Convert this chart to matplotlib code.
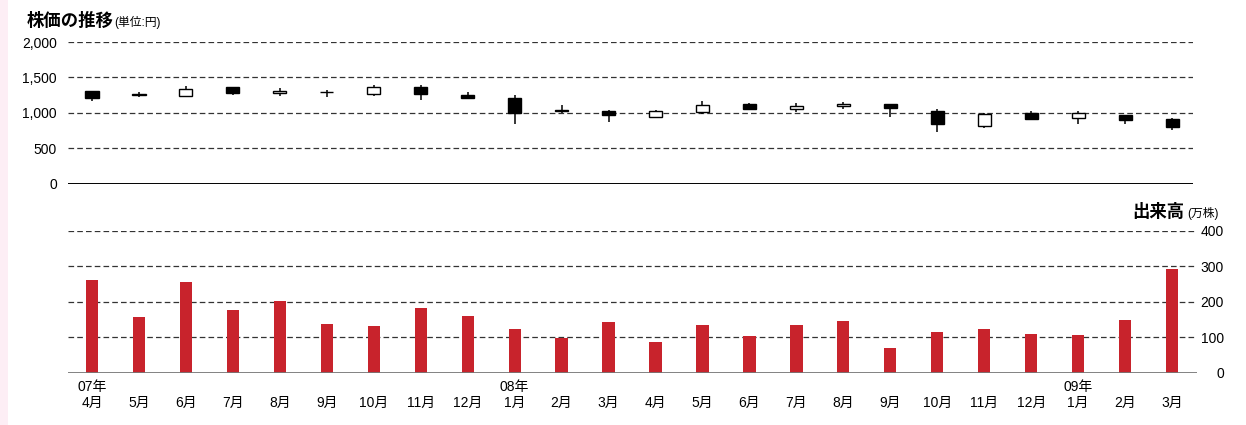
import numpy as np
import matplotlib.pyplot as plt
from matplotlib.patches import Rectangle

plt.rcParams['font.family'] = ['Liberation Sans', 'Noto Sans CJK JP', 'DejaVu Sans']

# monthly candles, Apr 2007 - Mar 2009 (yen)
months = ["4月", "5月", "6月", "7月", "8月", "9月", "10月", "11月", "12月",
          "1月", "2月", "3月", "4月", "5月", "6月", "7月", "8月", "9月",
          "10月", "11月", "12月", "1月", "2月", "3月"]
years = {0: "07年", 9: "08年", 21: "09年"}

opens = [1305, 1255, 1245, 1360, 1275, 1300, 1270, 1365, 1250,
         1215, 1040, 1035, 950, 1015, 1125, 1050, 1100, 1125,
         1030, 810, 1000, 925, 970, 920]
closes = [1210, 1265, 1335, 1280, 1310, 1290, 1360, 1265, 1205,
          1000, 1025, 970, 1025, 1110, 1060, 1100, 1125, 1075,
          840, 980, 920, 995, 905, 805]
highs = [1310, 1300, 1375, 1365, 1355, 1320, 1390, 1395, 1290,
         1250, 1110, 1040, 1040, 1170, 1140, 1135, 1155, 1130,
         1050, 995, 1030, 1025, 975, 925]
lows = [1170, 1230, 1240, 1255, 1245, 1225, 1245, 1190, 1200,
        850, 995, 870, 935, 990, 1040, 1020, 1060, 950,
        730, 795, 920, 850, 845, 755]

# trading volume (10,000 shares)
volume = [260, 157, 255, 177, 202, 137, 131, 182, 160,
          123, 99, 143, 86, 134, 103, 134, 146, 70,
          115, 123, 109, 106, 148, 292]

W, H = 1246, 425
fig = plt.figure(figsize=(W / 100, H / 100), dpi=100)
fig.patch.set_facecolor('white')
fig.patches.append(Rectangle((0, 0), 8 / W, 1, transform=fig.transFigure,
                             facecolor='#fdeef5', edgecolor='none'))

step = 46.96  # pixels per month
x0 = 92       # pixel of first month
x = np.arange(len(months))

def px_axes(left, top, right, bottom):
    return fig.add_axes([left / W, 1 - bottom / H, (right - left) / W, (bottom - top) / H])

grid_style = dict(color='#333333', lw=0.9, linestyle=(0, (4.5, 2.5)))

# --- price candles ---
ax1 = px_axes(68, 42, 1193, 184)
ax1.set_xlim((68 - x0) / step, (1193 - x0) / step)
ax1.set_ylim(0, 2000)
for v in [500, 1000, 1500, 2000]:
    ax1.axhline(v, zorder=0, **grid_style)
ax1.axhline(0, color='black', lw=1.4, zorder=1)

o = np.array(opens)
c = np.array(closes)
ax1.vlines(x, lows, highs, color='black', lw=1.1, zorder=2)
body_lo = np.minimum(o, c)
body_h = np.maximum(np.abs(c - o), 12)
face = ['white' if cc > oo else 'black' for oo, cc in zip(o, c)]
ax1.bar(x, body_h, bottom=body_lo, width=0.28, color=face,
        edgecolor='black', linewidth=1.0, zorder=3)

ax1.set_yticks([0, 500, 1000, 1500, 2000])
ax1.set_yticklabels(["0", "500", "1,000", "1,500", "2,000"])
ax1.tick_params(axis='y', length=0, pad=8, labelsize=10)
ax1.set_xticks([])
for s in ax1.spines.values():
    s.set_visible(False)
ax1.patch.set_alpha(0)

# --- volume bars ---
ax2 = px_axes(68, 230.7, 1197, 372.7)
ax2.set_xlim((68 - x0) / step, (1197 - x0) / step)
ax2.set_ylim(0, 400)
for v in [100, 200, 300, 400]:
    ax2.axhline(v, xmax=(1194 - 68) / (1197 - 68), zorder=0, **grid_style)
ax2.bar(x, volume, width=0.26, color='#c8232c', zorder=2)
ax2.axhline(0, color='#777777', lw=2.0, zorder=3)

ax2.yaxis.tick_right()
ax2.set_yticks([0, 100, 200, 300, 400])
ax2.tick_params(axis='y', length=0, pad=19.5, labelsize=10)
for lab in ax2.get_yticklabels():
    lab.set_ha('right')

labels = [(years[i] if i in years else "") + "\n" + m for i, m in enumerate(months)]
ax2.set_xticks(x)
ax2.set_xticklabels(labels, fontsize=10, linespacing=1.25)
ax2.tick_params(axis='x', length=0, pad=5)
for s in ax2.spines.values():
    s.set_visible(False)
ax2.patch.set_alpha(0)

# headings
fig.text(27 / W, 1 - 26 / H, "株価の推移", fontsize=12.5, fontweight='bold',
         va='baseline', ha='left')
fig.text(114 / W, 1 - 26 / H, "(単位:円)", fontsize=8.5, va='baseline', ha='left')
fig.text(1184 / W, 1 - 217 / H, "出来高", fontsize=12.5, fontweight='bold',
         va='baseline', ha='right')
fig.text(1187 / W, 1 - 217 / H, "(万株)", fontsize=8.5, va='baseline', ha='left')

fig.savefig('out.png', dpi=100)
